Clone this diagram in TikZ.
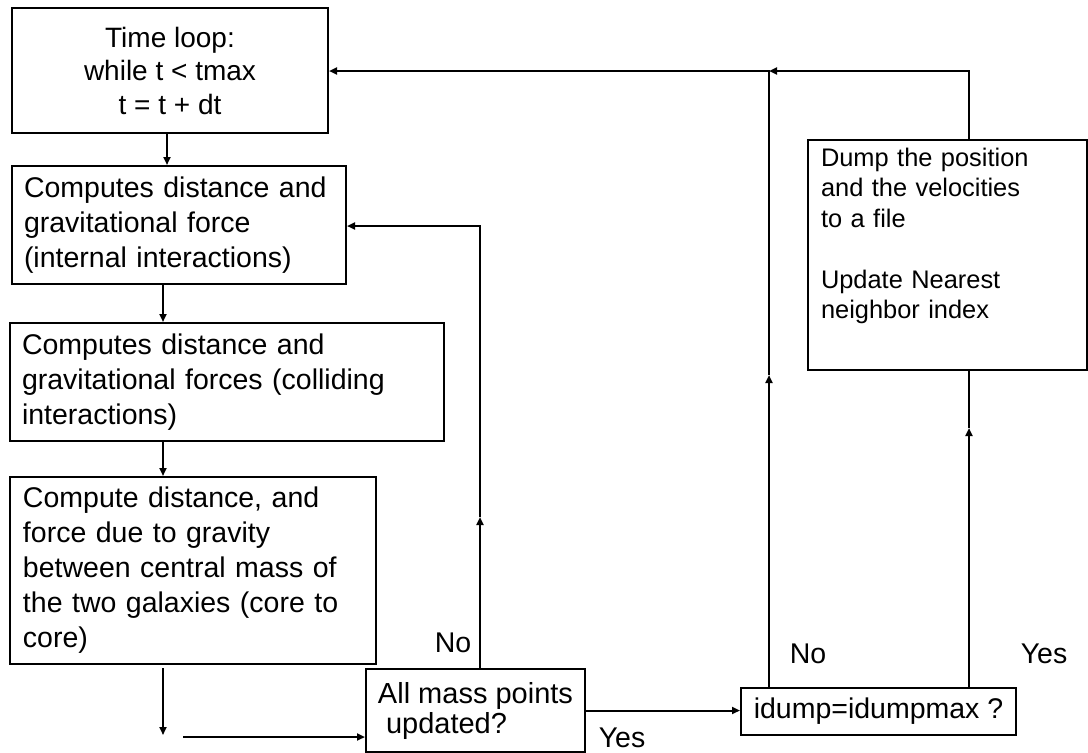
\documentclass[tikz,border=0pt]{standalone}
\usepackage{fontspec}
\setmainfont{Liberation Sans}
\usetikzlibrary{arrows.meta}
\begin{document}
\begin{tikzpicture}[x=1pt,y=-1pt, line width=2pt,
  box/.style={draw, line width=2pt, rectangle, anchor=north west, inner ysep=0pt, align=left, font=\fontsize{28.5}{35}\selectfont},
  arr/.style={-{Triangle[length=8pt,width=7pt]}, line width=2pt},
  lab/.style={font=\fontsize{28.5}{35}\selectfont, inner sep=0pt}]
\useasboundingbox (0,0) rectangle (1088,753);

\node[box, minimum width=316pt, minimum height=125pt, inner xsep=12pt, align=center, font=\fontsize{28}{33.5}\selectfont] (b1) at (11,7) {Time loop:\\while t < tmax\\t = t + dt};
\node[box, minimum width=334pt, minimum height=118pt, text width=310pt, inner xsep=12pt] (b2) at (11,165) {Computes distance and\\gravitational force\\(internal interactions)};
\node[box, minimum width=434pt, minimum height=118pt, text width=410pt, inner xsep=12pt] (b3) at (9,322) {Computes distance and\\gravitational forces (colliding\\interactions)};
\node[box, minimum width=366pt, minimum height=187pt, text width=340pt, inner xsep=13pt] (b4) at (9,476) {Compute distance, and\\force due to gravity\\between central mass of\\the two galaxies (core to\\core)};
\node[box, minimum width=219pt, minimum height=83pt, inner xsep=6pt, font=\fontsize{29}{30}\selectfont] (bm) at (365,668) {All mass points\\\ updated?};
\node[box, minimum width=275pt, minimum height=47pt, inner xsep=6pt, align=center] (bi) at (740,687) {idump=idumpmax ?};
\node[box, minimum width=279pt, minimum height=230pt, text width=253pt, inner xsep=13pt, font=\fontsize{25.4}{30.5}\selectfont] (bd) at (807,139) {Dump the position\\and the velocities\\to a file\\[30.5pt]Update Nearest\\neighbor index\\[13pt]\mbox{}};

\node[lab] (no1) at (453,643) {No};
\node[lab] (yes1) at (622,738) {Yes};
\node[lab] (no2) at (808,654) {No};
\node[lab] (yes2) at (1044,654) {Yes};

\coordinate (p1) at (163,668);
\coordinate (p2) at (163,735);
\coordinate (p3) at (183,737);
\coordinate (n1) at (480,517);
\coordinate (n2) at (480,226);
\coordinate (m1) at (769,375);
\coordinate (m2) at (769,71);
\coordinate (k1) at (969,428);
\coordinate (k2) at (969,71);

\draw[arr] ([xshift=-3pt]b1.south) -- ([xshift=-3pt]b1.south |- b2.north);
\draw[arr] ([xshift=152pt]b2.south west) -- ([xshift=152pt]b2.south west |- b3.north);
\draw[arr] ([xshift=154pt]b3.south west) -- ([xshift=154pt]b3.south west |- b4.north);
\draw[arr] (p1) -- (p2);
\draw[arr] (p3) -- (p3 -| bm.west);
\draw[arr] (bm.north -| n1) -- (n1);
\draw[arr] (n1) -- (n2) -- (n2 -| b2.east);
\draw[arr] (bm.east) -- (bm.east -| bi.west);
\draw[arr] (bi.north -| m1) -- (m1);
\draw[arr] (m1) -- (m2) -- (m2 -| b1.east);
\draw[arr] (bi.north -| k1) -- (k1);
\draw (k1) -- (k1 |- bd.south);
\draw[arr] (bd.north -| k2) -- (k2) -- (m2);
\end{tikzpicture}
\end{document}
